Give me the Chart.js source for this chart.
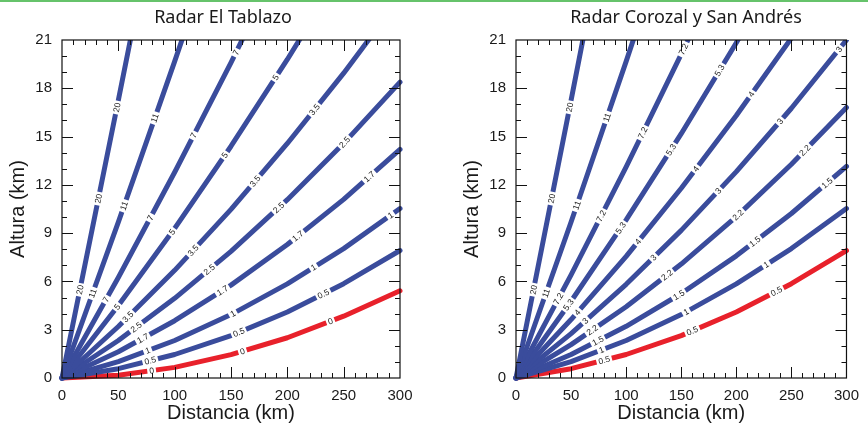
<!DOCTYPE html>
<html>
<head>
<meta charset="utf-8">
<script src="https://cdn.jsdelivr.net/npm/chart.js@4.4.1/dist/chart.umd.min.js"></script>
<style>
  html, body { margin: 0; padding: 0; background: #fff; }
  body { width: 868px; height: 432px; position: relative; overflow: hidden; }
  .topline { position: absolute; left: 0; top: 0; width: 868px; height: 2px; background: #66c36b; }
  .panel { position: absolute; top: 0; width: 434px; height: 432px; }
</style>
</head>
<body>
<div class="topline"></div>
<div class="panel" style="left:0"><canvas id="tablazo" width="434" height="432"></canvas></div>
<div class="panel" style="left:434px"><canvas id="corozal" width="434" height="432"></canvas></div>
<script>
// distancia (km) de cada punto
const distances = [0, 50, 100, 150, 200, 250, 300];
const xTickValues = [0, 50, 100, 150, 200, 250, 300];
const yTickValues = [0, 3, 6, 9, 12, 15, 18, 21];

// Radar El Tablazo - altura (km) por elevacion
const tablazoAngles = ['20', '11', '7', '5', '3.5', '2.5', '1.7', '1', '0.5', '0'];
const tab20 = [0, 17.25, 34.79];
const tab11 = [0, 9.69, 19.67, 29.95];
const tab7 = [0, 6.24, 12.78, 19.60, 26.73];
const tab5 = [0, 4.50, 9.30, 14.40, 19.79, 25.47];
const tab35 = [0, 3.20, 6.69, 10.48, 14.57, 18.94, 23.61];
const tab25 = [0, 2.33, 4.95, 7.87, 11.08, 14.58, 18.38];
const tab17 = [0, 1.63, 3.56, 5.77, 8.29, 11.10, 14.20];
const tab1 = [0, 1.02, 2.33, 3.94, 5.85, 8.04, 10.53];
const tab05 = [0, 0.58, 1.46, 2.63, 4.10, 5.86, 7.92];
const tab0 = [0, 0.17, 0.66, 1.45, 2.50, 3.84, 5.42];

// Radar Corozal y San Andres
const corozalAngles = ['20', '11', '7.2', '5.3', '4', '3', '2.2', '1.5', '1', '0.5'];
const cor20 = [0, 17.25, 34.79];
const cor11 = [0, 9.69, 19.67, 29.95];
const cor72 = [0, 6.41, 13.12, 20.12, 27.42];
const cor53 = [0, 4.77, 9.83, 15.18, 20.83, 26.77];
const cor4 = [0, 3.63, 7.56, 11.79, 16.31, 21.12, 26.23];
const cor3 = [0, 2.76, 5.82, 9.17, 12.82, 16.76, 21.00];
const cor22 = [0, 2.07, 4.43, 7.08, 10.03, 13.28, 16.81];
const cor15 = [0, 1.46, 3.21, 5.25, 7.59, 10.22, 13.15];
const cor1 = [0, 1.02, 2.33, 3.94, 5.85, 8.04, 10.53];
const cor05 = [0, 0.58, 1.46, 2.63, 4.10, 5.86, 7.92];

const BLUE = '#3a4c9c';
const RED = '#e8212b';

Chart.defaults.font.family = '"Liberation Sans", Arial, sans-serif';
Chart.defaults.color = '#1a1a1a';

// etiquetas sobre las lineas (como en NCL)
const lineLabels = {
  id: 'lineLabels',
  afterDatasetsDraw(chart) {
    const { ctx, chartArea } = chart;
    ctx.save();
    ctx.beginPath();
    ctx.rect(chartArea.left, chartArea.top, chartArea.right - chartArea.left, chartArea.bottom - chartArea.top);
    ctx.clip();
    ctx.font = '8.5px "Liberation Sans", Arial, sans-serif';
    ctx.textAlign = 'center';
    ctx.textBaseline = 'middle';
    chart.data.datasets.forEach((ds, i) => {
      const pts = chart.getDatasetMeta(i).data.map(p => ({ x: p.x, y: p.y }));
      const path = [pts[0]];
      for (let k = 1; k < pts.length; k++) {
        const a = path[path.length - 1], b = pts[k];
        if (b.y < chartArea.top) {
          const t = (a.y - chartArea.top) / (a.y - b.y);
          path.push({ x: a.x + t * (b.x - a.x), y: chartArea.top });
          break;
        }
        path.push(b);
      }
      const lens = [];
      let total = 0;
      for (let k = 1; k < path.length; k++) {
        const l = Math.hypot(path[k].x - path[k - 1].x, path[k].y - path[k - 1].y);
        lens.push(l);
        total += l;
      }
      const w = ctx.measureText(ds.label).width;
      for (let s = 90; s <= total - 8; s += 93) {
        let acc = 0, k = 0;
        while (k < lens.length - 1 && acc + lens[k] < s) { acc += lens[k]; k++; }
        const a = path[k], b = path[k + 1];
        const t = (s - acc) / lens[k];
        const x = a.x + t * (b.x - a.x);
        const y = a.y + t * (b.y - a.y);
        const ang = Math.atan2(b.y - a.y, b.x - a.x);
        ctx.save();
        ctx.translate(x, y);
        ctx.rotate(ang);
        ctx.fillStyle = '#fff';
        ctx.fillRect(-w / 2 - 2, -4, w + 4, 8);
        ctx.fillStyle = '#222';
        ctx.fillText(ds.label, 0, 0.5);
        ctx.restore();
      }
    });
    ctx.restore();
  }
};

// marco con marcas hacia adentro en los cuatro lados
const frameTicks = {
  id: 'frameTicks',
  afterDatasetsDraw(chart) {
    const { ctx, chartArea: ca, scales } = chart;
    ctx.save();
    ctx.strokeStyle = '#111';
    ctx.lineWidth = 1.2;
    ctx.strokeRect(ca.left, ca.top, ca.right - ca.left, ca.bottom - ca.top);
    ctx.lineWidth = 1;
    ctx.beginPath();
    for (let v = 10; v < 300; v += 10) {
      const px = Math.round(scales.x.getPixelForValue(v)) + 0.5;
      const len = v % 50 === 0 ? 11 : 5;
      ctx.moveTo(px, ca.bottom); ctx.lineTo(px, ca.bottom - len);
      ctx.moveTo(px, ca.top); ctx.lineTo(px, ca.top + len);
    }
    for (let v = 1; v < 21; v++) {
      const py = Math.round(scales.y.getPixelForValue(v)) + 0.5;
      const len = v % 3 === 0 ? 11 : 5;
      ctx.moveTo(ca.left, py); ctx.lineTo(ca.left + len, py);
      ctx.moveTo(ca.right, py); ctx.lineTo(ca.right - len, py);
    }
    ctx.stroke();
    ctx.restore();
  }
};

const panelTitle = {
  id: 'panelTitle',
  afterDraw(chart, args, opts) {
    const { ctx } = chart;
    ctx.save();
    ctx.font = '18px "Noto Sans", Lato, sans-serif';
    ctx.fillStyle = '#1a1a1a';
    ctx.textAlign = 'center';
    ctx.textBaseline = 'middle';
    ctx.fillText(opts.text, opts.x, 18);
    ctx.restore();
  }
};

function makeDatasets(angles, series, redLabel) {
  return series.map((h, i) => ({
    label: angles[i],
    data: h.map((v, k) => ({ x: distances[k], y: v })),
    borderColor: angles[i] === redLabel ? RED : BLUE,
    borderWidth: 5,
    pointRadius: 0,
    tension: 0,
    borderJoinStyle: 'round',
    borderCapStyle: 'round',
    clip: { left: 5, top: 0, right: 3, bottom: 5 }
  }));
}

function makeChart(id, title, titleX, padLeft, padRight, datasets) {
  return new Chart(document.getElementById(id), {
    type: 'line',
    data: { datasets },
    options: {
      responsive: false,
      animation: false,
      layout: { padding: { left: padLeft, right: padRight, top: 40, bottom: 0 } },
      plugins: {
        legend: { display: false },
        tooltip: { enabled: false },
        panelTitle: { text: title, x: titleX }
      },
      scales: {
        x: {
          type: 'linear',
          min: 0,
          max: 300,
          grid: { display: false, drawTicks: false },
          border: { display: false },
          afterBuildTicks: s => { s.ticks = xTickValues.map(v => ({ value: v })); },
          afterFit: s => { s.height = 54; },
          ticks: { font: { size: 15 }, padding: 9, maxRotation: 0 },
          title: { display: true, text: 'Distancia (km)', font: { size: 20 }, padding: { top: 0, bottom: 7 } }
        },
        y: {
          type: 'linear',
          min: 0,
          max: 21,
          grid: { display: false, drawTicks: false },
          border: { display: false },
          afterBuildTicks: s => { s.ticks = yTickValues.map(v => ({ value: v })); },
          afterFit: s => { s.width = 62; },
          ticks: { font: { size: 15 }, padding: 10 },
          title: { display: true, text: 'Altura (km)', font: { size: 20 }, padding: { top: 6, bottom: 0 } }
        }
      }
    },
    plugins: [lineLabels, frameTicks, panelTitle]
  });
}

makeChart('tablazo', 'Radar El Tablazo', 223, 0, 34,
  makeDatasets(tablazoAngles, [tab20, tab11, tab7, tab5, tab35, tab25, tab17, tab1, tab05, tab0], '0'));
makeChart('corozal', 'Radar Corozal y San Andrés', 252, 20, 13,
  makeDatasets(corozalAngles, [cor20, cor11, cor72, cor53, cor4, cor3, cor22, cor15, cor1, cor05], '0.5'));
</script>
</body>
</html>
